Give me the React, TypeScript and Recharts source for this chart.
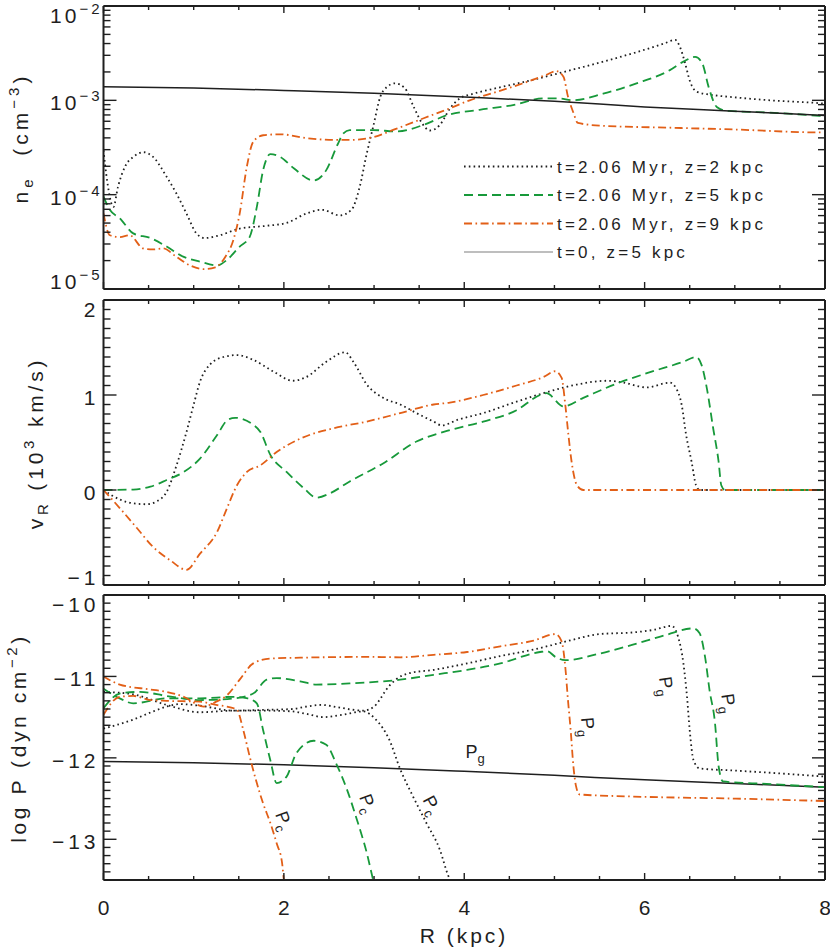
import React from 'react';
import { LineChart, Line, XAxis, YAxis, Legend, ReferenceDot } from 'recharts';

type Pt = [number, number];

// R (kpc), shared by all three panels
const rTicks = [0, 0.5, 1, 1.5, 2, 2.5, 3, 3.5, 4, 4.5, 5, 5.5, 6, 6.5, 7, 7.5, 8];
const rLabels = [0, 2, 4, 6, 8];

// top panel: log10 n_e (cm^-3)
const neDecades = [-5, -4, -3, -2];
const neT0: Pt[] = [[0, -2.856], [1, -2.87], [2, -2.895], [3, -2.925], [4, -2.965], [5, -3.01], [6, -3.07], [7, -3.115], [8, -3.16]];
const neZ2: Pt[] = [
  [0, -3.53], [0.04, -3.85], [0.11, -4.13], [0.16, -3.92], [0.24, -3.7], [0.33, -3.6], [0.44, -3.55], [0.55, -3.6],
  [0.7, -3.81], [0.81, -3.99], [0.92, -4.2], [1.03, -4.41], [1.12, -4.46], [1.29, -4.43], [1.51, -4.36], [1.81, -4.33],
  [2.03, -4.3], [2.25, -4.2], [2.42, -4.16], [2.62, -4.22], [2.75, -4.16], [2.84, -3.92], [2.92, -3.56], [2.99, -3.28],
  [3.07, -2.96], [3.14, -2.86], [3.23, -2.82], [3.34, -2.87], [3.44, -3.07], [3.53, -3.24], [3.62, -3.32], [3.73, -3.26],
  [3.84, -3.09], [3.95, -2.98], [4.1, -2.93], [4.36, -2.87], [4.73, -2.79], [5.1, -2.7], [5.54, -2.59], [5.91, -2.49],
  [6.21, -2.4], [6.34, -2.36], [6.39, -2.43], [6.45, -2.61], [6.5, -2.79], [6.58, -2.91], [6.73, -2.94], [7.02, -2.97],
  [7.39, -3.0], [7.94, -3.03], [8, -3.035],
];
const neZ5: Pt[] = [
  [0, -4.02], [0.07, -4.16], [0.18, -4.25], [0.33, -4.41], [0.52, -4.46], [0.7, -4.55], [0.89, -4.66], [1.07, -4.71],
  [1.26, -4.75], [1.37, -4.69], [1.51, -4.55], [1.62, -4.45], [1.7, -4.13], [1.77, -3.74], [1.85, -3.57], [1.96, -3.6],
  [2.11, -3.72], [2.33, -3.85], [2.47, -3.74], [2.6, -3.46], [2.66, -3.35], [2.73, -3.315], [2.99, -3.315], [3.25, -3.33],
  [3.55, -3.26], [3.8, -3.16], [4.17, -3.1], [4.54, -3.05], [4.88, -2.98], [5.05, -2.98], [5.2, -3.0], [5.54, -2.93],
  [5.91, -2.82], [6.28, -2.68], [6.43, -2.59], [6.56, -2.54], [6.64, -2.61], [6.71, -2.86], [6.8, -3.07], [6.91, -3.11],
  [7.39, -3.13], [7.94, -3.165], [8, -3.17],
];
const neZ9: Pt[] = [
  [0, -4.2], [0.07, -4.43], [0.18, -4.45], [0.29, -4.43], [0.44, -4.57], [0.55, -4.58], [0.66, -4.57], [0.81, -4.66],
  [0.96, -4.75], [1.11, -4.79], [1.24, -4.77], [1.35, -4.66], [1.44, -4.48], [1.51, -4.2], [1.59, -3.7], [1.66, -3.44],
  [1.77, -3.37], [1.96, -3.36], [2.25, -3.4], [2.55, -3.42], [2.73, -3.42], [2.99, -3.39], [3.25, -3.3], [3.55, -3.19],
  [3.8, -3.1], [4.06, -3.0], [4.36, -2.91], [4.65, -2.82], [4.91, -2.73], [5.02, -2.69], [5.1, -2.75], [5.15, -2.96],
  [5.21, -3.13], [5.26, -3.24], [5.54, -3.27], [6.28, -3.29], [7.02, -3.31], [7.94, -3.34], [8, -3.34],
];

// middle panel: v_R (10^3 km/s)
const vLabels = [-1, 0, 1, 2];
const vZ2: Pt[] = [
  [0, 0], [0.18, -0.1], [0.33, -0.14], [0.48, -0.15], [0.59, -0.12], [0.7, -0.02], [0.81, 0.26], [0.92, 0.61], [1.0, 0.9],
  [1.07, 1.14], [1.18, 1.32], [1.33, 1.4], [1.48, 1.42], [1.66, 1.37], [1.88, 1.25], [2.1, 1.15], [2.25, 1.19], [2.47, 1.35],
  [2.68, 1.45], [2.77, 1.35], [2.92, 1.11], [3.1, 0.97], [3.29, 0.9], [3.47, 0.81], [3.66, 0.72], [3.75, 0.68], [3.93, 0.74],
  [4.21, 0.81], [4.58, 0.93], [4.88, 1.02], [5.25, 1.11], [5.58, 1.15], [5.77, 1.13], [6.02, 1.08], [6.28, 1.13], [6.35, 1.07],
  [6.41, 0.9], [6.46, 0.58], [6.52, 0.3], [6.57, 0.05], [6.61, 0], [8, 0],
];
const vZ5: Pt[] = [
  [0, 0], [0.33, 0.005], [0.52, 0.035], [0.7, 0.105], [0.89, 0.19], [1.07, 0.33], [1.26, 0.58], [1.38, 0.74], [1.46, 0.76],
  [1.64, 0.7], [1.74, 0.61], [1.85, 0.37], [2.03, 0.19], [2.22, 0.02], [2.36, -0.08], [2.51, -0.035], [2.73, 0.09], [3.1, 0.28],
  [3.47, 0.51], [3.84, 0.63], [4.21, 0.72], [4.58, 0.84], [4.84, 1.0], [4.91, 1.02], [5.1, 0.88], [5.32, 0.97], [5.69, 1.12],
  [6.06, 1.24], [6.43, 1.35], [6.57, 1.4], [6.63, 1.32], [6.69, 1.07], [6.76, 0.65], [6.82, 0.3], [6.85, 0.05], [6.89, 0], [8, 0],
];
const vZ9: Pt[] = [
  [0, 0], [0.18, -0.19], [0.37, -0.4], [0.55, -0.6], [0.74, -0.74], [0.92, -0.84], [1.07, -0.67], [1.26, -0.44], [1.37, -0.19],
  [1.48, 0.05], [1.59, 0.19], [1.74, 0.26], [1.92, 0.4], [2.18, 0.54], [2.55, 0.65], [2.92, 0.72], [3.29, 0.81], [3.66, 0.9],
  [3.84, 0.92], [4.21, 1.0], [4.58, 1.1], [4.88, 1.19], [5.01, 1.25], [5.08, 1.18], [5.12, 0.9], [5.155, 0.58], [5.19, 0.3],
  [5.25, 0.05], [5.32, 0], [8, 0],
];

// bottom panel: log P (dyn cm^-2), gas (Pg) and cosmic ray (Pc)
const pLabels = [-13, -12, -11, -10];
const pT0: Pt[] = [[0, -12.045], [1, -12.06], [2, -12.085], [3, -12.12], [4, -12.165], [5, -12.215], [6, -12.27], [7, -12.315], [8, -12.36]];
const pgZ2: Pt[] = [
  [0, -11.64], [0.33, -11.53], [0.55, -11.43], [0.7, -11.37], [0.85, -11.34], [1.07, -11.36], [1.44, -11.42], [1.8, -11.41],
  [2.1, -11.4], [2.25, -11.37], [2.42, -11.35], [2.6, -11.38], [2.88, -11.42], [3.0, -11.37], [3.06, -11.29], [3.13, -11.17],
  [3.24, -11.04], [3.39, -10.96], [3.66, -10.92], [4.03, -10.84], [4.4, -10.75], [4.77, -10.67], [5.13, -10.57], [5.5, -10.48],
  [5.87, -10.46], [6.09, -10.43], [6.3, -10.38], [6.37, -10.51], [6.43, -10.84], [6.47, -11.25], [6.5, -11.66], [6.54, -12.02],
  [6.61, -12.13], [6.98, -12.155], [7.35, -12.18], [8, -12.23],
];
const pcZ2: Pt[] = [
  [0, -11.19], [0.33, -11.22], [0.7, -11.35], [1.07, -11.44], [1.44, -11.42], [1.8, -11.42], [2.1, -11.43], [2.25, -11.46],
  [2.44, -11.5], [2.65, -11.47], [2.88, -11.43], [3.02, -11.53], [3.17, -11.78], [3.29, -12.14], [3.43, -12.47], [3.58, -12.8],
  [3.73, -13.13], [3.82, -13.44], [3.9, -13.62],
];
const pgZ5: Pt[] = [
  [0, -11.39], [0.18, -11.21], [0.4, -11.19], [0.7, -11.24], [1.07, -11.29], [1.44, -11.27], [1.66, -11.21], [1.81, -11.04],
  [1.92, -11.02], [2.18, -11.06], [2.36, -11.1], [2.73, -11.085], [3.29, -11.04], [3.66, -10.98], [4.03, -10.92], [4.4, -10.84],
  [4.84, -10.7], [4.92, -10.69], [5.01, -10.76], [5.12, -10.8], [5.5, -10.72], [5.87, -10.61], [6.24, -10.49], [6.54, -10.41],
  [6.61, -10.47], [6.67, -10.76], [6.72, -11.17], [6.78, -11.57], [6.82, -12.1], [6.87, -12.29], [7.35, -12.32], [8, -12.36],
];
const pcZ5: Pt[] = [
  [0, -11.15], [0.18, -11.27], [0.33, -11.33], [0.7, -11.27], [1.07, -11.27], [1.44, -11.25], [1.6, -11.27], [1.7, -11.33],
  [1.77, -11.66], [1.85, -12.03], [1.92, -12.31], [2.03, -12.23], [2.14, -11.94], [2.33, -11.79], [2.47, -11.84], [2.58, -12.07],
  [2.7, -12.39], [2.81, -12.76], [2.92, -13.17], [2.99, -13.5], [3.05, -13.75],
];
const pgZ9: Pt[] = [
  [0, -11.0], [0.18, -11.1], [0.52, -11.16], [0.7, -11.19], [0.89, -11.25], [1.11, -11.37], [1.25, -11.31], [1.37, -11.23],
  [1.51, -11.04], [1.66, -10.84], [1.85, -10.78], [2.18, -10.77], [2.92, -10.76], [3.29, -10.765], [3.66, -10.735], [4.03, -10.7],
  [4.4, -10.63], [4.77, -10.56], [5.01, -10.48], [5.08, -10.57], [5.12, -10.88], [5.15, -11.29], [5.18, -11.66], [5.21, -12.1],
  [5.24, -12.35], [5.28, -12.45], [5.87, -12.475], [6.98, -12.5], [8, -12.53],
];
const pcZ9: Pt[] = [
  [0, -11.47], [0.18, -11.25], [0.33, -11.24], [0.52, -11.29], [0.7, -11.3], [1.07, -11.31], [1.25, -11.35], [1.37, -11.37],
  [1.48, -11.41], [1.55, -11.66], [1.62, -11.98], [1.7, -12.31], [1.77, -12.56], [1.85, -12.8], [1.92, -13.05], [1.98, -13.29],
  [2.0, -13.5], [2.03, -13.7],
];

// Pg / Pc tags next to the pressure curves: [R, log P, subscript, angle]
const pTags: [number, number, string, number][] = [
  [4.12, -11.93, 'g', 0], [5.37, -11.62, 'g', 85], [6.24, -11.12, 'g', 82], [6.93, -11.33, 'g', 82],
  [3.64, -12.58, 'c', 62], [2.93, -12.56, 'c', 70], [2.0, -12.77, 'c', 70],
];

const legendNames = ['t=2.06 Myr, z=2 kpc', 't=2.06 Myr, z=5 kpc', 't=2.06 Myr, z=9 kpc', 't=0, z=5 kpc'];

const neTicks = neDecades.flatMap((d, i) =>
  i === neDecades.length - 1 ? [d] : [1, 2, 3, 4, 5, 6, 7, 8, 9].map((m) => d + Math.log10(m)),
);
const vTicks = Array.from({ length: 31 }, (_, i) => (i - 10) / 10);
const pTicks = Array.from({ length: 36 }, (_, i) => (i - 135) / 10);

const W = 830;
const H = 951;
const LEFT = 103.5;
const RIGHT = 825;
const FONT = '"Liberation Sans", Arial, Helvetica, sans-serif';
const INK = '#1f1f1f';
const GREEN = '#17993a';
const ORANGE = '#e25f17';
const DOT = '1.6 3.2';
const DASH = '9 5';
const DASHDOT = '8 3.5 1.6 3.5';

type Series = { id: string; data: Pt[]; stroke: string; dash?: string; width?: number; legend?: string };

const topSeries: Series[] = [
  { id: legendNames[0], data: neZ2, stroke: INK, dash: DOT },
  { id: legendNames[1], data: neZ5, stroke: GREEN, dash: DASH },
  { id: legendNames[2], data: neZ9, stroke: ORANGE, dash: DASHDOT },
  { id: legendNames[3], data: neT0, stroke: INK, width: 1.5, legend: '#a9a9a9' },
];
const midSeries: Series[] = [
  { id: 'vz2', data: vZ2, stroke: INK, dash: DOT },
  { id: 'vz5', data: vZ5, stroke: GREEN, dash: DASH },
  { id: 'vz9', data: vZ9, stroke: ORANGE, dash: DASHDOT },
];
const botSeries: Series[] = [
  { id: 'pt0', data: pT0, stroke: INK, width: 1.5 },
  { id: 'pgz2', data: pgZ2, stroke: INK, dash: DOT },
  { id: 'pcz2', data: pcZ2, stroke: INK, dash: DOT },
  { id: 'pgz5', data: pgZ5, stroke: GREEN, dash: DASH },
  { id: 'pcz5', data: pcZ5, stroke: GREEN, dash: DASH },
  { id: 'pgz9', data: pgZ9, stroke: ORANGE, dash: DASHDOT },
  { id: 'pcz9', data: pcZ9, stroke: ORANGE, dash: DASHDOT },
];

const rows = (pts: Pt[]) => pts.map(([r, y]) => ({ r, y }));
const near = (v: number, list: number[]) => list.some((m) => Math.abs(m - v) < 1e-6);
const minus = (v: number) => (v < 0 ? '\u2212' + Math.abs(v) : String(v));

function yTick(side: 'left' | 'right', majors: number[], lo: number, hi: number, log: boolean) {
  return (p: any) => {
    const v = p.payload.value as number;
    const major = near(v, majors);
    const len = major ? 13 : 7;
    const dir = side === 'left' ? 1 : -1;
    const base = Math.abs(v - hi) < 1e-6 ? 17 : Math.abs(v - lo) < 1e-6 ? 0 : 10;
    const show = side === 'left' && major;
    return (
      <g>
        <line x1={p.x} x2={p.x + dir * len} y1={p.y} y2={p.y} stroke={INK} strokeWidth={1.4} />
        {show && !log && (
          <text x={p.x - 4} y={p.y + base} textAnchor="end" fontSize={21} fontFamily={FONT} fill={INK} letterSpacing={4}>
            {minus(v)}
          </text>
        )}
        {show && log && (
          <text x={p.x - 1} y={p.y + base} textAnchor="end" fontSize={21} fontFamily={FONT} fill={INK} letterSpacing={3}>
            10
            <tspan dy={-9} fontSize={15}>
              {minus(v)}
            </tspan>
          </text>
        )}
      </g>
    );
  };
}

function xTick(side: 'top' | 'bottom', labels: boolean) {
  return (p: any) => {
    const v = p.payload.value as number;
    const major = near(v, rLabels);
    const dir = side === 'bottom' ? -1 : 1;
    return (
      <g>
        <line x1={p.x} x2={p.x} y1={p.y} y2={p.y + dir * (major ? 7 : 4)} stroke={INK} strokeWidth={1.4} />
        {labels && major && (
          <text x={p.x} y={p.y + 35} textAnchor="middle" fontSize={21} fontFamily={FONT} fill={INK}>
            {v}
          </text>
        )}
      </g>
    );
  };
}

const titleText = { fontSize: 21, fontFamily: FONT, fill: INK, textAnchor: 'middle' as const };

const NeTitle = () => (
  <text x={28} y={138} transform="rotate(-90 28 138)" {...titleText} letterSpacing={4}>
    n<tspan dy={5} fontSize={15}>e</tspan>
    <tspan dy={-5}>{'\u00a0\u00a0(cm'}</tspan>
    <tspan dy={-9} fontSize={15}>{'\u22123'}</tspan>
    <tspan dy={9}>)</tspan>
  </text>
);
const VTitle = () => (
  <text x={43} y={443} transform="rotate(-90 43 443)" {...titleText} letterSpacing={3.8}>
    v<tspan dy={5} fontSize={15}>R</tspan>
    <tspan dy={-5}> (10</tspan>
    <tspan dy={-9} fontSize={15}>3</tspan>
    <tspan dy={9}> km/s)</tspan>
  </text>
);
const PTitle = () => (
  <text x={26} y={738} transform="rotate(-90 26 738)" {...titleText} letterSpacing={3.6}>
    log P (dyn cm<tspan dy={-9} fontSize={15}>{'\u22122'}</tspan>
    <tspan dy={9}>)</tspan>
  </text>
);
const RTitle = () => (
  <text x={464} y={943} {...titleText} letterSpacing={3}>
    R (kpc)
  </text>
);

const renderLegend = () => (
  <svg width={350} height={120} style={{ display: 'block', overflow: 'visible' }}>
    {topSeries.map((s, i) => {
      const cy = 16.5 + i * 28.5;
      return (
        <g key={s.id}>
          <line x1={9} x2={98} y1={cy} y2={cy} stroke={s.legend ?? s.stroke} strokeWidth={s.width ?? 1.8} strokeDasharray={s.dash} />
          <text x={102} y={cy + 6} fontSize={17} fontFamily={FONT} fill={INK} letterSpacing={3.2}>
            {s.id}
          </text>
        </g>
      );
    })}
  </svg>
);

type PanelProps = {
  top: number;
  bottom: number;
  lo: number;
  hi: number;
  ticks: number[];
  majors: number[];
  log?: boolean;
  series: Series[];
  withR?: boolean;
  Title: () => React.ReactElement;
  children?: React.ReactNode;
};

function Panel({ top, bottom, lo, hi, ticks, majors, log = false, series, withR = false, Title, children }: PanelProps) {
  const frame = { stroke: INK, strokeWidth: 2 };
  const common = { tickLine: false, tickSize: 0, tickMargin: 0, interval: 0 as const, axisLine: frame, allowDataOverflow: true };
  return (
    <div style={{ position: 'absolute', left: 0, top: 0, width: W, height: H }}>
      <LineChart width={W} height={H} margin={{ top: top - 1, right: 0, bottom: H - bottom - 1, left: 0 }}>
        <XAxis xAxisId="b" orientation="bottom" type="number" dataKey="r" domain={[0, 8]} ticks={rTicks} height={1}
          {...common} tick={xTick('bottom', withR)} label={withR ? RTitle : undefined} />
        <XAxis xAxisId="t" orientation="top" type="number" dataKey="r" domain={[0, 8]} ticks={rTicks} height={1}
          {...common} tick={xTick('top', false)} />
        <YAxis yAxisId="l" orientation="left" type="number" domain={[lo, hi]} ticks={ticks} width={LEFT}
          {...common} tick={yTick('left', majors, lo, hi, log)} label={Title} />
        <YAxis yAxisId="r" orientation="right" type="number" domain={[lo, hi]} ticks={ticks} width={W - RIGHT}
          {...common} tick={yTick('right', majors, lo, hi, log)} />
        {series.map((s) => (
          <Line key={s.id} xAxisId="b" yAxisId="l" data={rows(s.data)} dataKey="y" type="monotone" stroke={s.stroke}
            strokeWidth={s.width ?? 1.8} strokeDasharray={s.dash} dot={false} activeDot={false} isAnimationActive={false} />
        ))}
        {children}
      </LineChart>
    </div>
  );
}

export default function App() {
  return (
    <div style={{ position: 'absolute', left: 0, top: 0, width: W, height: H, background: '#fff' }}>
      <Panel top={6} bottom={289} lo={-5} hi={-2} ticks={neTicks} majors={neDecades} log series={topSeries} Title={NeTitle}>
        <Legend layout="vertical" align="center" verticalAlign="middle" content={renderLegend}
          wrapperStyle={{ left: 455, top: 150, width: 350, height: 120 }} />
      </Panel>
      <Panel top={300} bottom={585} lo={-1} hi={2} ticks={vTicks} majors={vLabels} series={midSeries} Title={VTitle} />
      <Panel top={595} bottom={880} lo={-13.5} hi={-10} ticks={pTicks} majors={pLabels} series={botSeries} withR Title={PTitle}>
        {pTags.map(([r, p, sub, angle], i) => (
          <ReferenceDot key={i} xAxisId="b" yAxisId="l" x={r} y={p} r={1}
            shape={(d: any) => (
              <text x={d.cx} y={d.cy + 6} transform={`rotate(${angle} ${d.cx} ${d.cy})`} textAnchor="middle"
                fontSize={18} fontFamily={FONT} fill={INK}>
                P<tspan dy={5} fontSize={13}>{sub}</tspan>
              </text>
            )} />
        ))}
      </Panel>
    </div>
  );
}
